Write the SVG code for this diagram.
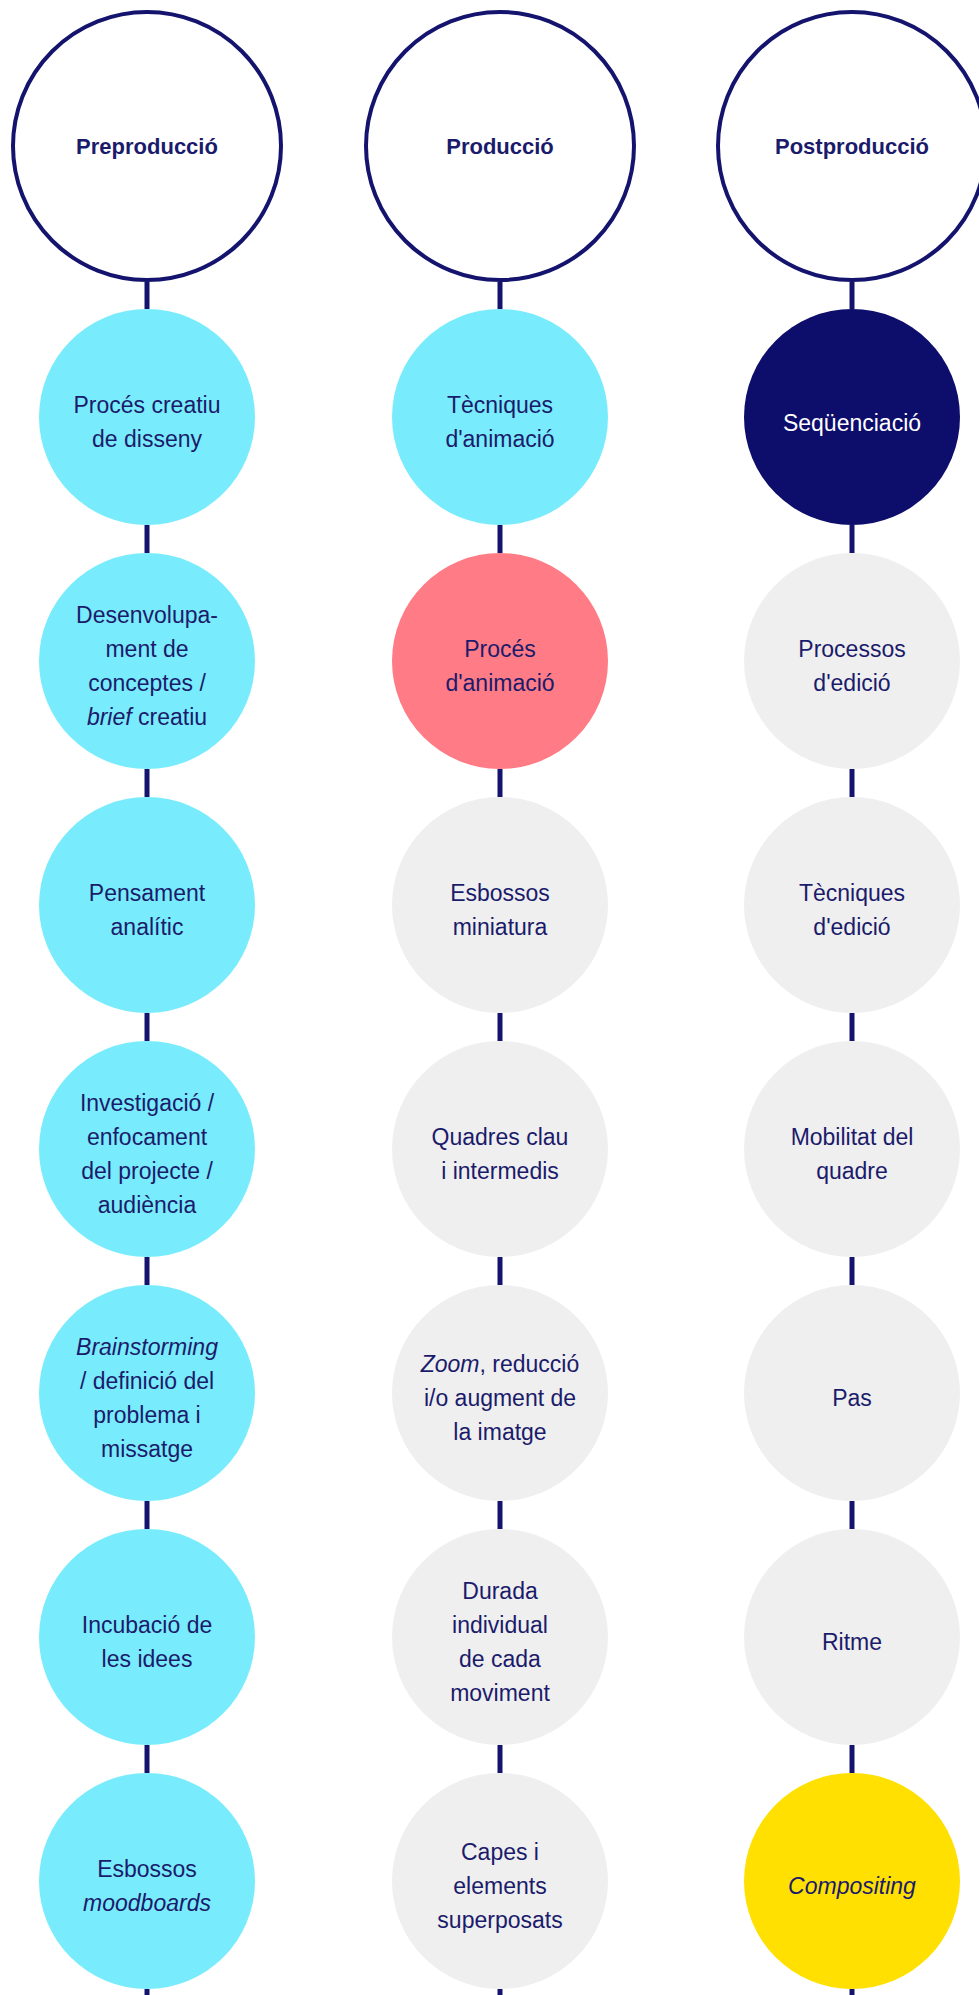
<svg xmlns="http://www.w3.org/2000/svg" width="979" height="1995" viewBox="0 0 979 1995">
<style>
.hd{fill:#fff;stroke:#14146e;stroke-width:4}
.cy{fill:#78ecfc}
.pk{fill:#ff7b85}
.gr{fill:#efefef}
.nv{fill:#0d0d6b}
.yl{fill:#ffe000}
text{font-family:"Liberation Sans",Arial,sans-serif;font-size:23px;fill:#1b1b6b;text-anchor:middle}
.t{font-weight:bold;font-size:22px}
.w{fill:#fff}
.i{font-style:italic}
.c line{stroke:#14146e;stroke-width:5}
</style>
<rect width="979" height="1995" fill="#fff"/>
<g class="c" id="connectors">
<line x1="147" y1="282" x2="147" y2="309"/><line x1="147" y1="525" x2="147" y2="553"/><line x1="147" y1="769" x2="147" y2="797"/><line x1="147" y1="1013" x2="147" y2="1041"/><line x1="147" y1="1257" x2="147" y2="1285"/><line x1="147" y1="1501" x2="147" y2="1529"/><line x1="147" y1="1745" x2="147" y2="1773"/><line x1="147" y1="1989" x2="147" y2="1995"/>
<line x1="500" y1="282" x2="500" y2="309"/><line x1="500" y1="525" x2="500" y2="553"/><line x1="500" y1="769" x2="500" y2="797"/><line x1="500" y1="1013" x2="500" y2="1041"/><line x1="500" y1="1257" x2="500" y2="1285"/><line x1="500" y1="1501" x2="500" y2="1529"/><line x1="500" y1="1745" x2="500" y2="1773"/><line x1="500" y1="1989" x2="500" y2="1995"/>
<line x1="852" y1="282" x2="852" y2="309"/><line x1="852" y1="525" x2="852" y2="553"/><line x1="852" y1="769" x2="852" y2="797"/><line x1="852" y1="1013" x2="852" y2="1041"/><line x1="852" y1="1257" x2="852" y2="1285"/><line x1="852" y1="1501" x2="852" y2="1529"/><line x1="852" y1="1745" x2="852" y2="1773"/><line x1="852" y1="1989" x2="852" y2="1995"/>
</g>
<g id="h1"><circle class="hd" cx="147" cy="146" r="134"/><text class="t" x="147" y="154">Preproducció</text></g>
<g id="h2"><circle class="hd" cx="500" cy="146" r="134"/><text class="t" x="500" y="154">Producció</text></g>
<g id="h3"><circle class="hd" cx="852" cy="146" r="134"/><text class="t" x="852" y="154">Postproducció</text></g>

<g id="a1"><circle class="cy" cx="147" cy="417" r="108"/><text x="147" y="413">Procés creatiu</text><text x="147" y="447">de disseny</text></g>
<g id="a2"><circle class="cy" cx="147" cy="661" r="108"/><text x="147" y="623">Desenvolupa-</text><text x="147" y="657">ment de</text><text x="147" y="691">conceptes /</text><text x="147" y="725"><tspan class="i">brief</tspan> creatiu</text></g>
<g id="a3"><circle class="cy" cx="147" cy="905" r="108"/><text x="147" y="901">Pensament</text><text x="147" y="935">analític</text></g>
<g id="a4"><circle class="cy" cx="147" cy="1149" r="108"/><text x="147" y="1111">Investigació /</text><text x="147" y="1145">enfocament</text><text x="147" y="1179">del projecte /</text><text x="147" y="1213">audiència</text></g>
<g id="a5"><circle class="cy" cx="147" cy="1393" r="108"/><text x="147" y="1355" class="i">Brainstorming</text><text x="147" y="1389">/ definició del</text><text x="147" y="1423">problema i</text><text x="147" y="1457">missatge</text></g>
<g id="a6"><circle class="cy" cx="147" cy="1637" r="108"/><text x="147" y="1633">Incubació de</text><text x="147" y="1667">les idees</text></g>
<g id="a7"><circle class="cy" cx="147" cy="1881" r="108"/><text x="147" y="1877">Esbossos</text><text x="147" y="1911" class="i">moodboards</text></g>

<g id="b1"><circle class="cy" cx="500" cy="417" r="108"/><text x="500" y="413">Tècniques</text><text x="500" y="447">d'animació</text></g>
<g id="b2"><circle class="pk" cx="500" cy="661" r="108"/><text x="500" y="657">Procés</text><text x="500" y="691">d'animació</text></g>
<g id="b3"><circle class="gr" cx="500" cy="905" r="108"/><text x="500" y="901">Esbossos</text><text x="500" y="935">miniatura</text></g>
<g id="b4"><circle class="gr" cx="500" cy="1149" r="108"/><text x="500" y="1145">Quadres clau</text><text x="500" y="1179">i intermedis</text></g>
<g id="b5"><circle class="gr" cx="500" cy="1393" r="108"/><text x="500" y="1372"><tspan class="i">Zoom</tspan>, reducció</text><text x="500" y="1406">i/o augment de</text><text x="500" y="1440">la imatge</text></g>
<g id="b6"><circle class="gr" cx="500" cy="1637" r="108"/><text x="500" y="1599">Durada</text><text x="500" y="1633">individual</text><text x="500" y="1667">de cada</text><text x="500" y="1701">moviment</text></g>
<g id="b7"><circle class="gr" cx="500" cy="1881" r="108"/><text x="500" y="1860">Capes i</text><text x="500" y="1894">elements</text><text x="500" y="1928">superposats</text></g>

<g id="c1"><circle class="nv" cx="852" cy="417" r="108"/><text x="852" y="431" class="w">Seqüenciació</text></g>
<g id="c2"><circle class="gr" cx="852" cy="661" r="108"/><text x="852" y="657">Processos</text><text x="852" y="691">d'edició</text></g>
<g id="c3"><circle class="gr" cx="852" cy="905" r="108"/><text x="852" y="901">Tècniques</text><text x="852" y="935">d'edició</text></g>
<g id="c4"><circle class="gr" cx="852" cy="1149" r="108"/><text x="852" y="1145">Mobilitat del</text><text x="852" y="1179">quadre</text></g>
<g id="c5"><circle class="gr" cx="852" cy="1393" r="108"/><text x="852" y="1406">Pas</text></g>
<g id="c6"><circle class="gr" cx="852" cy="1637" r="108"/><text x="852" y="1650">Ritme</text></g>
<g id="c7"><circle class="yl" cx="852" cy="1881" r="108"/><text x="852" y="1894" class="i">Compositing</text></g>
</svg>
